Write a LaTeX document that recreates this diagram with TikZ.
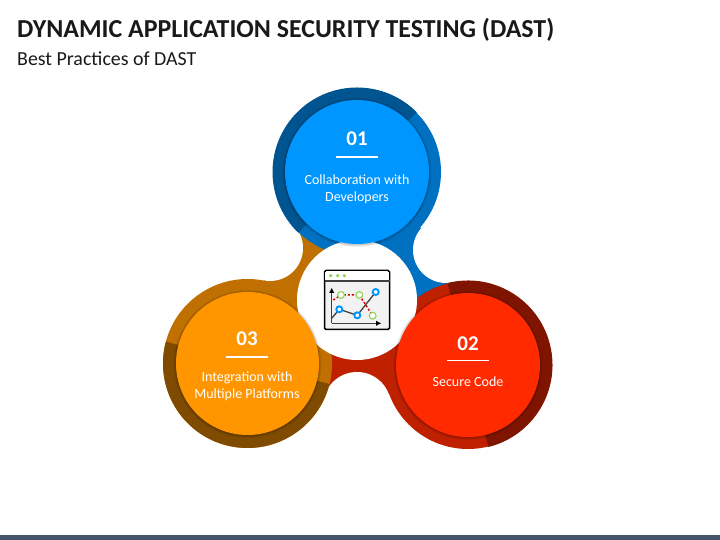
\documentclass[tikz,border=0pt]{standalone}
\usepackage{fontspec}
\setmainfont{Carlito}
\usetikzlibrary{calc,arrows.meta}
\definecolor{bluein}{HTML}{0096FF}\definecolor{bluering}{HTML}{0070C0}\definecolor{bluedark}{HTML}{00548F}
\definecolor{redin}{HTML}{FF2A00}\definecolor{redring}{HTML}{BF2000}\definecolor{reddark}{HTML}{7F1500}
\definecolor{orin}{HTML}{FF9600}\definecolor{orring}{HTML}{BF7000}\definecolor{ordark}{HTML}{7F4B00}
\definecolor{foot}{HTML}{44546A}\definecolor{iconline}{HTML}{404040}\definecolor{icongreen}{HTML}{92D050}\definecolor{iconblue}{HTML}{0096FF}
\tikzset{
 titletext/.style={anchor=base west,inner sep=0pt,font=\fontsize{25.9}{30}\selectfont\bfseries,text=black!90},
 subtext/.style={anchor=base west,inner sep=0pt,font=\fontsize{19.9}{22}\selectfont,text=black!90},
 numtext/.style={inner sep=0pt,text=white,font=\fontsize{21}{24}\selectfont\bfseries},
 bodytext/.style={inner sep=0pt,text=white,align=center,font=\fontsize{14}{17.5}\selectfont},
 rulebar/.style={white,line width=1.4pt},
 bluemark/.style={circle,draw=iconblue,fill=white,line width=1.9pt,minimum size=6pt,inner sep=0pt},
 greenmark/.style={circle,draw=icongreen,fill=white,line width=1.1pt,minimum size=6.8pt,inner sep=0pt},
}
\newcommand{\sectorfill}[4]{\fill[#1] (#2) -- ($(#2)+(#3:84.5)$) arc[start angle=#3,end angle=#4,radius=84.5] -- cycle;}
\newcommand{\softshadow}[2]{\foreach \k in {0.5,1,...,2.5}{\fill[black,opacity=.045] ($(#1)+(0,-.5)$) circle[radius=#2+\k];}}
\begin{document}
\begin{tikzpicture}[x=1pt,y=1pt]
\useasboundingbox (0,0) rectangle (720,540);
\fill[foot] (0,0) rectangle (720,5);
\node[titletext] (title) at (17,502) {DYNAMIC APPLICATION SECURITY TESTING (DAST)};
\node[subtext] (sub) at (17,474) {Best Practices of DAST};
\coordinate (B) at (357,368);
\coordinate (R) at (468,175);
\coordinate (O) at (247.5,176.5);
\coordinate (W) at (357,240);
\coordinate (NR) at (446,290);
\coordinate (NL) at (270,292);
\coordinate (NB) at (357,134);
% tails
\fill[bluering] (B) -- (NR) -- (R) -- (W) -- cycle;
\fill[orring] (O) -- (NL) -- (B) -- (W) -- cycle;
\fill[redring] (R) -- (NB) -- (O) -- (W) -- cycle;
\fill[white] (NR) circle[radius=33];
\fill[white] (NL) circle[radius=33];
\fill[white] (NB) circle[radius=34];
% rings
\fill[bluering] (B) circle[radius=84];
\sectorfill{bluedark}{B}{45}{226}
\fill[orring] (O) circle[radius=84.5];
\sectorfill{ordark}{O}{165}{346}
\fill[redring] (R) circle[radius=84];
\sectorfill{reddark}{R}{104}{-76}
% centre
\fill[white] (W) circle[radius=60];
% discs
\softshadow{B}{72}
\fill[bluein] (B) circle[radius=72];
\softshadow{O}{71.5}
\fill[orin] (O) circle[radius=71.5];
\softshadow{R}{72}
\fill[redin] (R) circle[radius=72];
% texts
\node[numtext] (n1) at (357,401) {01};
\draw[rulebar] (336,383) -- (378,383);
\node[bodytext] (t1) at (357,350.5) {Collaboration with\\Developers};
\node[numtext] (n2) at (468,196) {02};
\draw[rulebar] (447,179.3) -- (489,179.3);
\node[bodytext] (t2) at (468,158) {Secure Code};
\node[numtext] (n3) at (247,201) {03};
\draw[rulebar] (226,183) -- (268,183);
\node[bodytext] (t3) at (247,153.5) {Integration with\\Multiple Platforms};
% icon
\draw[black,fill=black!5,line width=1.5pt,rounded corners=1.5pt] (324.5,210.5) rectangle (389.5,269.5);
\fill[white,rounded corners=1.5pt] (325.2,259) rectangle (388.8,268.8);
\draw[iconline,line width=1.1pt] (324.5,259) -- (389.5,259);
\foreach \x in {330.7,337.7,344.3}{\fill[icongreen] (\x,264.3) circle[radius=1.8];}
\draw[iconline,line width=1pt,-{Latex[black,length=5.5pt,width=5.5pt]}] (331.7,216.7) -- (331.7,252.5);
\draw[iconline,line width=1pt,-{Latex[black,length=5.5pt,width=5.5pt]}] (331.7,216.7) -- (381.5,216.7);
\draw[red!90!black,line width=1.5pt,dash pattern=on 2pt off 2pt] (333.3,240) -- (341,245) -- (359.3,245) -- (372.7,224.3);
\draw[iconline,line width=1.3pt] (331.7,221.7) -- (339.3,230.7) -- (357.3,224.7) -- (375.7,248);
\node[greenmark] (g1) at (341,245) {};
\node[greenmark] (g2) at (359.3,245) {};
\node[greenmark] (g3) at (372.7,224.3) {};
\node[bluemark] (b1) at (339.3,230.7) {};
\node[bluemark] (b2) at (357.3,224.7) {};
\node[bluemark] (b3) at (375.7,248) {};
\end{tikzpicture}
\end{document}
